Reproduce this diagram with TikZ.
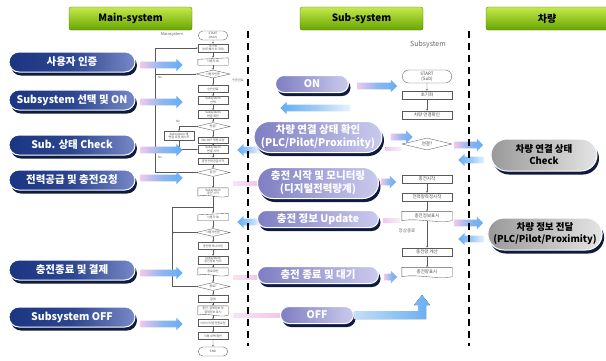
\documentclass[tikz,border=0pt]{standalone}
\usepackage{fontspec}
\setmainfont{Noto Sans CJK KR}
\usepackage{tikz}
\usetikzlibrary{positioning,calc,shapes.geometric,shapes.misc,shapes.arrows,shadows,arrows.meta}

\definecolor{hdrtop}{HTML}{C4EA4C}
\definecolor{hdrbot}{HTML}{68A500}
\definecolor{navyL}{HTML}{1A3582}
\definecolor{navyR}{HTML}{7788C6}
\definecolor{lavL}{HTML}{7E7EC2}
\definecolor{lavR}{HTML}{CACAEE}
\definecolor{grayL}{HTML}{999999}
\definecolor{grayR}{HTML}{E4E4E4}
\definecolor{shadowc}{HTML}{0E1B3D}
\definecolor{pinkT}{HTML}{EEC8EC}
\definecolor{blueH}{HTML}{66AEF2}

\newcommand{\docshape}[1]{%
  \draw[flowline] (#1.south west) -- (#1.north west) -- (#1.north east) -- (#1.south east)
    .. controls ($(#1.south east)!0.3!(#1.south west)+(0,3)$) and ($(#1.south east)!0.7!(#1.south west)+(0,-3)$) .. (#1.south west);}
\newcommand{\manshape}[1]{%
  \draw[flowline] (#1.south west) -- ([yshift=-1.5pt]#1.north west) -- (#1.north east) -- (#1.south east) -- cycle;}

\tikzset{
  hdrbox/.style={rectangle, rounded corners=2pt, top color=hdrtop, bottom color=hdrbot, draw=hdrbot!70!black, line width=0.3pt, minimum width=123, minimum height=23, font=\bfseries\fontsize{10}{12}\selectfont},
  pillbase/.style={rounded rectangle, draw=white, line width=1pt, drop shadow={shadow xshift=2pt, shadow yshift=-3.5pt, fill=shadowc, opacity=1}, align=center, inner sep=1pt},
  mainpill/.style={pillbase, left color=navyL, right color=navyR, middle color=navyL!80!navyR, text=white, minimum width=128, minimum height=20, font=\bfseries\fontsize{10.5}{12}\selectfont},
  subpill/.style={pillbase, left color=lavL, right color=lavR, text=white, minimum width=123, minimum height=17, font=\bfseries\fontsize{10.5}{13}\selectfont},
  carpill/.style={pillbase, left color=grayL, right color=grayR, text=black, minimum width=108, minimum height=32, font=\bfseries\fontsize{9.5}{12}\selectfont},
  fatR/.style={single arrow, text height=6.5pt, text depth=0pt, single arrow head extend=3pt, inner sep=0pt, draw=none, left color=pinkT, right color=blueH, middle color=blueH!70!pinkT},
  fatL/.style={fatR, shape border rotate=180, left color=blueH, right color=blueH!15, middle color=blueH!65},
  flowline/.style={draw=black!65, line width=0.35pt},
  flowarr/.style={flowline, -{Stealth[length=2pt,width=1.6pt]}},
  flowbox/.style={rectangle, flowline, fill=white, minimum width=30, minimum height=7, inner sep=0.3pt, align=center, text=black!70, font=\fontsize{3}{3.4}\selectfont},
  flowterm/.style={flowbox, rounded rectangle, minimum height=9},
  flowdec/.style={flowbox, diamond, aspect=4, minimum width=34, minimum height=8},
  flowdoc/.style={flowbox, draw=none, fill=none},
  flowman/.style={flowbox, draw=none},
  subbox/.style={flowbox, minimum width=50, minimum height=8, font=\fontsize{4.5}{5}\selectfont},
  subterm/.style={subbox, rounded rectangle, minimum height=13},
  subdec/.style={subbox, diamond, aspect=4, minimum height=12},
  subdoc/.style={subbox, draw=none, fill=none, minimum height=9},
  tinytxt/.style={text=black!60, font=\fontsize{3}{3.4}\selectfont},
  sepline/.style={line width=2.2pt, dash pattern=on 7pt off 5pt}
}

\begin{document}
\begin{tikzpicture}[x=1pt, y=-1pt]
        \useasboundingbox (0,0) rectangle (606,360);

        % Headers
        \node[hdrbox] (hMain) at (130.5,18.5) {Main-system};
        \node[hdrbox] (hSub) at (361.5,18.5) {Sub-system};
        \node[hdrbox, minimum width=122] (hCar) at (547,18.5) {차량};

        % Main flowchart
        \node[tinytxt, font=\fontsize{4}{5}\selectfont] (mlab) at (172,34) {Mainsystem};
        \node[flowterm] (m0) at (213,35.5) {START\\(Main)};
        \node[flowbox, minimum height=8] (m1) at (213,48) {초기화\\(하드웨어 초기화)};
        \node[flowman] (m2) at (213,61.5) {사용자 ID};
        \node[flowdec] (m3) at (213,74) {사용자인증};
        \node[tinytxt] (m3l) at (238,80) {인증완료};
        \node[flowbox] (m4) at (213,89) {승인완료};
        \node[flowbox, minimum height=8] (m5) at (213,100.5) {Subsystem\\선택};
        \node[flowbox, minimum height=8] (m6) at (213,114.5) {Subsystem\\연결 확인};
        \node[flowdec] (m7) at (213,126.5) {연결?};
        \node[flowbox, minimum height=9] (m7b) at (179,136) {Subsystem 재\\연결 요청 메시지};
        \node[flowbox, minimum height=6] (m8) at (213,140.5) {ON/OFF 명령 요청};
        \node[flowbox, minimum height=8] (m9) at (213,149.5) {Subsystem\\연결 시작};
        \node[flowbox, minimum height=6] (m10) at (213,161) {충전전력공급시작};
        \node[flowdec] (m11) at (213,172.5) {충전?};
        \node[flowdoc, minimum height=8] (m12) at (213,192) {Subsystem\\충전 시작};
        \node[flowman] (m13) at (213,217) {사용자 ID};
        \node[flowdec] (m14) at (213,232.5) {사용자인증};
        \node[flowbox] (m15) at (213,246) {충전량 모니터링};
        \node[flowbox, minimum height=8] (m16) at (213,260) {Subsystem\\충전정보 처리};
        \node[flowdoc] (m17) at (213,271.5) {종료확인};
        \node[flowdec] (m18) at (213,286.5) {종료?};
        \node[flowbox] (m19) at (213,299) {결제};
        \node[flowdoc, minimum height=9] (m20) at (213,310.5) {충전, 결제정보 및\\결제정보 표시};
        \node[flowbox] (m21) at (213,323) {서브시스템 전원요청};
        \node[flowbox] (m22) at (213,336) {이용 내역 확인};
        \node[flowterm] (m23) at (213,351.5) {END};
        \manshape{m2}
        \manshape{m13}
        \docshape{m12}
        \docshape{m17}
        \docshape{m20}

        \draw[flowarr] (m0) -- (m1);
        \draw[flowarr] (m1) -- (m2);
        \draw[flowarr] (m2) -- (m3);
        \draw[flowarr] (m3) -- (m4);
        \draw[flowarr] (m4) -- (m5);
        \draw[flowarr] (m5) -- (m6);
        \draw[flowarr] (m6) -- (m7);
        \draw[flowarr] (m7) -- (m8);
        \draw[flowarr] (m8) -- (m9);
        \draw[flowarr] (m9) -- (m10);
        \draw[flowarr] (m10) -- (m11);
        \draw[flowarr] (m11) -- (m12);
        \draw[flowarr] (m12) -- (m13);
        \draw[flowarr] (m13) -- (m14);
        \draw[flowarr] (m14) -- (m15);
        \draw[flowarr] (m15) -- (m16);
        \draw[flowarr] (m16) -- (m17);
        \draw[flowarr] (m17) -- (m18);
        \draw[flowarr] (m18) -- (m19);
        \draw[flowarr] (m19) -- (m20);
        \draw[flowarr] (m20) -- (m21);
        \draw[flowarr] (m21) -- (m22);
        \draw[flowarr] (m22) -- (m23);

        % Main loops
        \coordinate (lpA) at (155,48);
        \coordinate (lpB) at (155,172.5);
        \draw[flowarr] (lpB) -- (lpA) -- (m1.west);
        \draw[flowline] (m3.west) -- (m3.west -| lpA);
        \draw[flowline] (m11.west) -- (lpB);
        \draw[flowarr] (m7.west) -| (m7b.north);
        \draw[flowarr] (m7b.south) |- (m9.west);
        \node[tinytxt] (no1) at (160,77.5) {No};
        \node[tinytxt] (no2) at (178,121.5) {No};
        \node[tinytxt] (no3) at (160,157) {No};
        \coordinate (lqA) at (172,207);
        \coordinate (lqB) at (172,286.5);
        \draw[flowline] (m18.west) -- (lqB) -- (lqA) -- (lqA -| m13.north);
        \draw[flowarr] (m14.west) -- (m14.west -| lqA);

        % Sub flowchart
        \node[tinytxt, font=\fontsize{7}{8}\selectfont] (slab) at (428,45) {Subsystem};
        \node[subterm] (s0) at (427,76.5) {START\\(Sub)};
        \node[subbox] (s1) at (427,95) {초기화};
        \node[subbox] (s2) at (427,115) {차량 연결확인};
        \node[subdec] (s3) at (427,144) {연결?};
        \node[subbox] (s4) at (427,179) {충전시작};
        \node[subbox] (s5) at (427,197) {전력량측정시작};
        \node[subdoc] (s6) at (427,216) {충전정보표시};
        \node[subbox] (s7) at (427,252) {충전량 계산};
        \node[subdoc] (s8) at (427,272) {충전량표시};
        \node[tinytxt, font=\fontsize{4.5}{5}\selectfont] (slab2) at (407,231) {정상종료};
        \docshape{s6}
        \docshape{s8}
        \draw[flowarr] (s0) -- (s1);
        \draw[flowarr] (s1) -- (s2);
        \draw[flowarr] (s4) -- (s5);
        \draw[flowarr] (s5) -- (s6);
        \draw[flowarr] (s6) -- (s7);
        \draw[flowarr] (s7) -- (s8);

        % Arrows between columns
        \node[fatL, minimum height=22, anchor=tip] (bk2) at (237,150) {};
        \node[fatL, minimum height=22, anchor=tip] (bk4) at (237,222) {};
        \fill[left color=pinkT!50, right color=pinkT] (233,181) rectangle (257,185);
        \fill[left color=pinkT!50, right color=pinkT] (233,275) rectangle (257,279);
        \fill[left color=pinkT!50, right color=pinkT] (233,313) rectangle (281,317);
        \node[fatL, minimum height=70, anchor=tip] (bkON) at (280,108) {};
        \node[fatR, minimum height=29, anchor=tail] (cr1) at (454,145) {};
        \node[fatL, minimum height=26, anchor=tip] (cr2) at (458,160) {};
        \node[fatR, minimum height=29, anchor=tail] (cr3) at (454,223) {};
        \node[fatL, minimum height=26, anchor=tip] (cr4) at (458,239) {};

        % Separators
        \draw[sepline] (248,31) -- (248,346);
        \draw[sepline] (469,31) -- (469,346);

        % Main pills
        \node[mainpill] (p1) at (72,62) {사용자 인증};
        \node[mainpill] (p2) at (72,100) {Subsystem 선택 및 ON};
        \node[mainpill] (p3) at (72,145) {Sub. 상태 Check};
        \node[mainpill] (p4) at (72,180) {전력공급 및 충전요청};
        \node[mainpill] (p5) at (72,270) {충전종료 및 결제};
        \node[mainpill] (p6) at (72,317) {Subsystem OFF};
        \node[fatR, minimum height=42, anchor=tail] (a1) at ([xshift=5pt,yshift=-3pt]p1.east) {};
        \node[fatR, minimum height=42, anchor=tail] (a2) at ([xshift=5pt,yshift=-2pt]p2.east) {};
        \node[fatR, minimum height=42, anchor=tail] (a3) at ([xshift=5pt,yshift=-5pt]p3.east) {};
        \node[fatR, minimum height=42, anchor=tail] (a4) at ([xshift=5pt,yshift=2pt]p4.east) {};
        \node[fatR, minimum height=42, anchor=tail] (a5) at ([xshift=5pt,yshift=-3pt]p5.east) {};
        \node[fatR, minimum height=42, anchor=tail] (a6) at ([xshift=5pt,yshift=-7pt]p6.east) {};

        % Sub pills
        \node[subpill, minimum width=75] (sp1) at (312,84) {ON};
        \node[subpill, minimum height=31] (sp2) at (318,137) {차량 연결 상태 확인\\(PLC/Pilot/Proximity)};
        \node[subpill, minimum height=31] (sp3) at (318,183) {충전 시작 및 모니터링\\(디지털전력량계)};
        \node[subpill] (sp4) at (318,219) {충전 정보 Update};
        \node[subpill] (sp5) at (318,275) {충전 종료 및 대기};
        \node[subpill, minimum width=75] (sp6) at (317,315) {OFF};
        \node[fatR, minimum height=40, anchor=tail] (aON) at ([xshift=8pt,yshift=-2pt]sp1.east) {};
        \node[fatR, minimum height=22, anchor=tail] (aCk) at ([xshift=8pt]sp2.east) {};
        \fill[left color=pinkT, right color=pinkT!30] ([xshift=3pt,yshift=-10pt]sp2.east) rectangle ([xshift=19pt,yshift=-13pt]sp2.east);
        \node[fatR, minimum height=15, anchor=tail] (aSt) at ([xshift=2pt,yshift=1pt]sp3.east) {};
        \fill[left color=pinkT, right color=pinkT!30] ([xshift=4pt,yshift=1pt]sp4.east) rectangle ([xshift=21pt,yshift=-3pt]sp4.east);
        \node[fatR, minimum height=13, anchor=tail] (aEn) at ([xshift=5pt,yshift=-2pt]sp5.east) {};
        \fill[left color=blueH!40, right color=blueH] (sp6.east) ++(0,-4) -- ++(64,0) -- ++(0,-6) -- ++(-4,0) -- ++(8,-10) -- ++(8,10) -- ++(-4,0) -- ++(0,14) -- ++(-72,0) -- cycle;

        % Car pills
        \node[carpill] (cp1) at (544,155) {차량 연결 상태\\Check};
        \node[carpill, minimum width=110] (cp2) at (545,234) {차량 정보 전달\\(PLC/Pilot/Proximity)};
    \end{tikzpicture}
\end{document}
